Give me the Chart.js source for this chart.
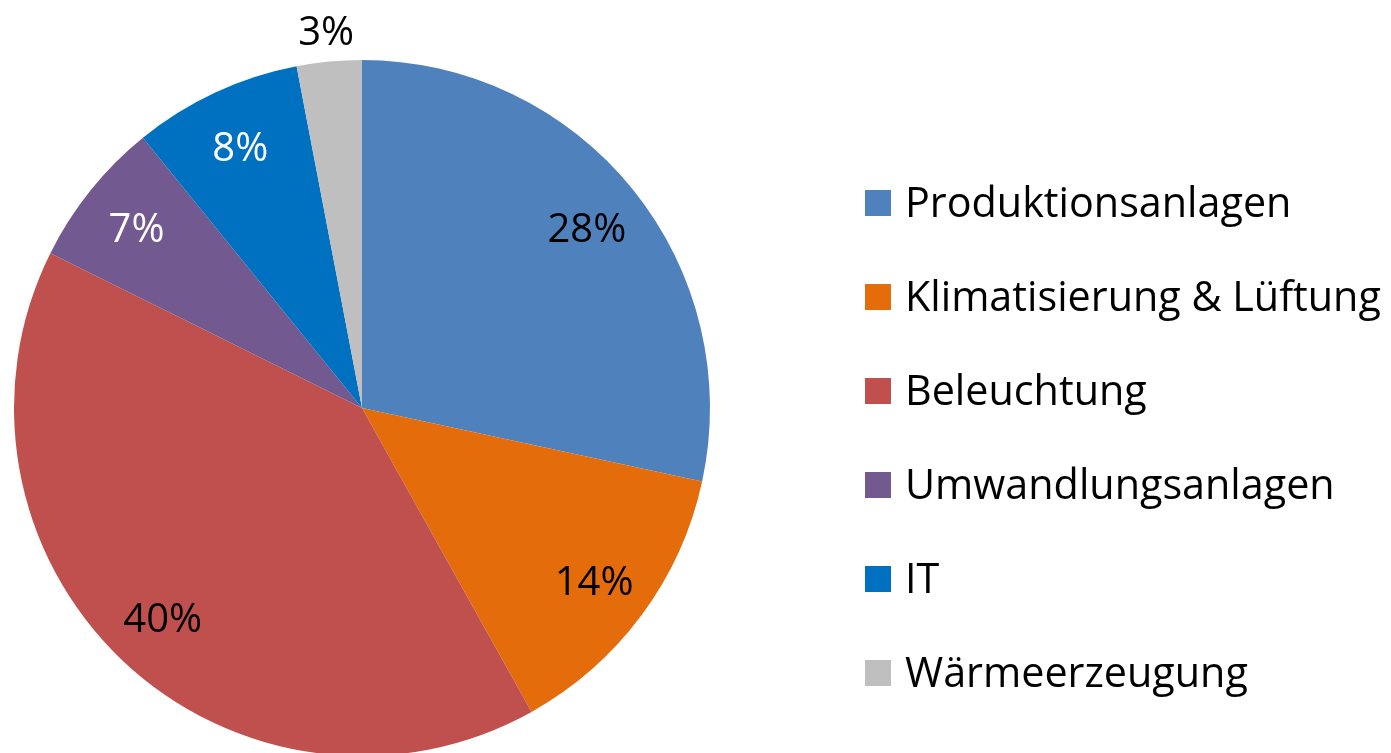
<!DOCTYPE html>
<html>
<head>
    <meta charset="utf-8" />
    <title>Energieverbrauch nach Bereichen</title>
    <script src="https://cdn.jsdelivr.net/npm/chart.js"></script>
    <style>
        html, body { margin: 0; padding: 0; background: #ffffff; overflow: hidden; }
        #wrap { position: relative; width: 1391px; height: 800px; }
    </style>
</head>
<body>
    <div id="wrap">
        <canvas id="pieChart"></canvas>
    </div>

    <script>
        const categories = ['Produktionsanlagen', 'Klimatisierung & Lüftung', 'Beleuchtung', 'Umwandlungsanlagen', 'IT', 'Wärmeerzeugung'];
        // shares in % (labels show them rounded)
        const shares = [28.39, 13.51, 40.44, 6.82, 7.83, 3.01];
        const sliceColors = ['#4F81BD', '#E46C0A', '#C0504D', '#72598F', '#0070C0', '#BFBFBF'];
        const labelColors = ['#000000', '#000000', '#000000', '#ffffff', '#ffffff', '#000000'];

        const FONT = '"Open Sans", "DejaVu Sans", sans-serif';

        // percent labels on (or just outside) each slice
        const sliceLabels = {
            id: 'sliceLabels',
            afterDatasetsDraw(chart) {
                const ctx = chart.ctx;
                const meta = chart.getDatasetMeta(0);
                ctx.save();
                ctx.font = '40px ' + FONT;
                ctx.textAlign = 'center';
                ctx.textBaseline = 'alphabetic';
                meta.data.forEach((arc, i) => {
                    const p = arc.getProps(['x', 'y', 'startAngle', 'endAngle', 'outerRadius'], true);
                    const mid = (p.startAngle + p.endAngle) / 2;
                    const outside = shares[i] < 5;
                    const r = outside ? p.outerRadius + 32 : p.outerRadius * 0.83;
                    const x = p.x + Math.cos(mid) * r;
                    const y = p.y + Math.sin(mid) * r;
                    ctx.fillStyle = labelColors[i];
                    ctx.fillText(Math.round(shares[i]) + '%', x, y + 15);
                });
                ctx.restore();
            }
        };

        // legend on the right, square + text
        const sideLegend = {
            id: 'sideLegend',
            afterDraw(chart) {
                const ctx = chart.ctx;
                const colors = chart.data.datasets[0].backgroundColor;
                ctx.save();
                ctx.font = '100px ' + FONT;
                const size = 100 * 386 / ctx.measureText(categories[0]).width;
                ctx.font = size.toFixed(1) + 'px ' + FONT;
                ctx.textAlign = 'left';
                ctx.textBaseline = 'alphabetic';
                chart.data.labels.forEach((label, i) => {
                    const cy = 203 + i * 94;
                    ctx.fillStyle = colors[i];
                    ctx.fillRect(865, cy - 13, 26, 26);
                    ctx.fillStyle = '#000000';
                    ctx.fillText(label, 905, cy + 14);
                });
                ctx.restore();
            }
        };

        new Chart(document.getElementById('pieChart'), {
            type: 'pie',
            data: {
                labels: categories,
                datasets: [{
                    data: shares,
                    backgroundColor: sliceColors,
                    borderWidth: 0,
                    hoverBorderWidth: 0,
                    hoverOffset: 0,
                    offset: 0
                }]
            },
            options: {
                responsive: true,
                maintainAspectRatio: false,
                animation: false,
                events: [],
                layout: {
                    padding: { left: 14, right: 681, top: 60, bottom: 44 }
                },
                plugins: {
                    legend: { display: false },
                    tooltip: { enabled: false }
                }
            },
            plugins: [sliceLabels, sideLegend]
        });
    </script>
</body>
</html>
